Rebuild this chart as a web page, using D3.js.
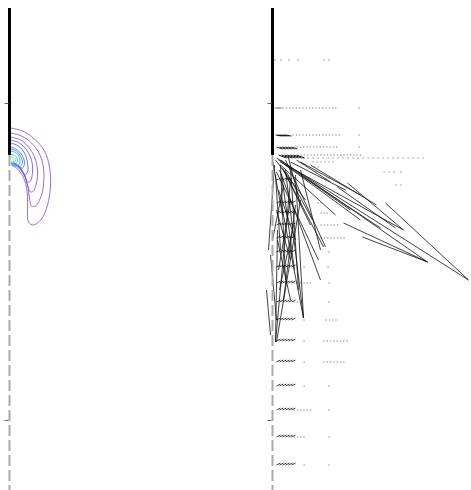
<!DOCTYPE html>
<html>
<head>
<meta charset="utf-8">
<script src="https://cdn.jsdelivr.net/npm/d3@7"></script>
<style>
  body { margin: 0; background: #fff; }
  svg { display: block; }
</style>
</head>
<body>
<div id="chart"></div>
<script>
// heights in mm above the lower tick, x in mm from the wall
const wallTop = 412;
const wallOpening = 265;
const domainBottom = -70;
const yTicks = [0, 317];

// concentration contours, outermost first
const contourLevels = [
    [[1,292],[13,289],[25,281],[35,269],[40,253],[41,234],[38,215],[32,201],[24,195],[19,198],[18,210],[18,225],[15,240],[9,250],[2,255]],
    [[1,287],[12,284],[22,277],[30,266],[34,252],[34,235],[31,222],[26,214],[22,214],[20,222],[18,235],[14,246],[8,253],[2,256]],
    [[1,283],[11,280],[19,273],[25,263],[28,250],[27,237],[24,229],[21,228],[18,235],[15,245],[9,253],[2,257]],
    [[1,280],[10,277],[17,270],[22,260],[23,248],[21,239],[18,238],[15,245],[10,253],[2,258]],
    [[1,277],[9,274],[15,267],[18,257],[18,248],[15,245],[12,250],[7,256],[2,258]],
    [[1,273],[8,270],[13,264],[15,257],[13,252],[8,254],[2,257]],
    [[1,271],[7,269],[11,264],[13,258],[11,254],[7,255],[2,257]],
    [[1,269],[7,267],[10,262],[10,256],[6,254],[2,256]],
    [[1,266],[6,264],[8,260],[6,256],[2,256]],
    [[1,263],[5,262],[6,259],[3,257],[1,258]],
    [[2,261],[4,260],[4,258],[2,258]]
];
const contourColors = ["#8f5fc8", "#8a60cc", "#7f62d0", "#6f64d6", "#5a66da", "#4a74dc", "#3f8ede", "#34a6dc", "#3bbcd4", "#62d2c0", "#a2e6a4"];

// tiny velocity vectors: row height, runs [from, to, spacing], single positions
const dotRows = [
    { y: 360, runs: [], singles: [2, 8, 16, 25, 51, 56] },
    { y: 312, runs: [[10, 65, 3.3]], singles: [86] },
    { y: 285, runs: [[20, 68, 3.3]], singles: [86] },
    { y: 273, runs: [[24, 65, 3.3]], singles: [86] },
    { y: 265, runs: [[28, 88, 3.3]], singles: [] },
    { y: 262, runs: [[30, 150, 5]], singles: [] },
    { y: 258, runs: [[40, 60, 4]], singles: [] },
    { y: 253, runs: [], singles: [41, 45] },
    { y: 248, runs: [], singles: [43, 111, 116, 121, 128] },
    { y: 242, runs: [], singles: [53, 56] },
    { y: 235, runs: [], singles: [123, 128] },
    { y: 217, runs: [], singles: [45, 48] },
    { y: 207, runs: [[48, 56, 3]], singles: [] },
    { y: 195, runs: [[48, 65, 3.3]], singles: [] },
    { y: 182, runs: [[48, 73, 3.3]], singles: [] },
    { y: 168, runs: [], singles: [56] },
    { y: 153, runs: [], singles: [31, 55] },
    { y: 137, runs: [[21, 38, 3.3]], singles: [56] },
    { y: 118, runs: [[21, 25, 3.3]], singles: [56] },
    { y: 100, runs: [[53, 65, 3.3]], singles: [31] },
    { y: 79, runs: [[51, 76, 3.3]], singles: [31] },
    { y: 58, runs: [[51, 73, 3.3]], singles: [31] },
    { y: 34, runs: [], singles: [31, 56] },
    { y: 10, runs: [[21, 38, 3.3]], singles: [56] },
    { y: -17, runs: [[21, 31, 3.3]], singles: [56] },
    { y: -45, runs: [], singles: [31, 56] }
];

// short vectors next to the wall: row, positions, u, v
const featherRows = [
    { y: 312, cols: [2, 4, 6], u: 4, v: 0, color: "#888" },
    { y: 285, cols: [3, 5, 7, 9, 11, 13], u: 6, v: -1, color: "#111" },
    { y: 273, cols: [4, 7, 10, 13, 16, 19], u: 6, v: -2, color: "#111" },
    { y: 265, cols: [6, 9, 12, 15, 18, 21, 24], u: 8, v: -3, color: "#000" },
    { y: 240, cols: [4, 7, 10, 13, 16], u: 4, v: 2, color: "#333" },
    { y: 217, cols: [4, 7, 10, 13, 16, 19], u: 4, v: 2, color: "#333" },
    { y: 207, cols: [4, 7, 10, 13, 16, 19], u: 4, v: 2, color: "#333" },
    { y: 195, cols: [4, 7, 10, 13, 16, 19], u: 4, v: 2, color: "#333" },
    { y: 182, cols: [4, 7, 10, 13, 16, 19], u: 4, v: 2, color: "#333" },
    { y: 168, cols: [4, 7, 10, 13, 16, 19], u: 4, v: 2, color: "#333" },
    { y: 153, cols: [4, 7, 10, 13, 16, 19], u: 4, v: 2, color: "#333" },
    { y: 137, cols: [4, 7, 10, 13, 16, 19], u: 4, v: 2, color: "#333" },
    { y: 118, cols: [4, 7, 10, 13, 16, 19], u: 4, v: 2, color: "#333" },
    { y: 100, cols: [4, 7, 10, 13, 16, 19], u: 4, v: 2, color: "#333" },
    { y: 79, cols: [4, 7, 10, 13, 16, 19], u: 4, v: 2, color: "#333" },
    { y: 58, cols: [4, 7, 10, 13, 16, 19], u: 4, v: 2, color: "#333" },
    { y: 34, cols: [4, 7, 10, 13, 16, 19], u: 4, v: 2, color: "#333" },
    { y: 10, cols: [4, 7, 10, 13, 16, 19], u: 4, v: 2, color: "#333" },
    { y: -17, cols: [4, 7, 10, 13, 16, 19], u: 4, v: 2, color: "#333" },
    { y: -45, cols: [4, 7, 10, 13, 16, 19], u: 4, v: 2, color: "#333" }
];

// large vectors near the opening: [x0, y0, x1, y1]
const longArrows = [
    [4,262,196,140], [113,217,196,140], [71,197,155,158], [90,183,155,158],
    [8,260,155,158], [75,237,131,190], [8,258,131,190], [65,233,123,192],
    [13,255,108,192], [6,260,88,200], [8,255,63,205], [10,252,51,173],
    [7,250,48,140], [4,248,46,160], [28,245,78,210],
    [13,250,31,102], [23,245,31,102], [8,220,31,102], [18,240,3,78],
    [5,190,3,78], [28,220,4,78], [-6,130,-2,85], [8,255,13,140],
    [18,252,26,130], [3,245,8,170], [11,250,38,195], [28,250,48,170],
    [3,260,33,220], [18,220,6,150], [13,260,53,173], [6,230,23,180],
    [23,215,11,120], [4,210,18,160], [0,260,10,205], [16,262,28,215],
    [11,235,0,180], [5,180,18,120], [21,195,7,130], [-2,165,4,100],
    [2,255,-4,170], [24,260,58,238], [18,258,73,230], [28,258,88,225],
    [38,255,104,215], [14,248,40,200], [9,246,22,150]
];

class WallPanel {
    constructor(_config) {
        this.config = {
            svg: _config.svg,
            left: _config.left,
            width: _config.width,
            height: _config.height
        };
        this.initVis();
    }

    initVis() {
        let vis = this;
        vis.y = d3.scaleLinear().domain([domainBottom, wallTop]).range([vis.config.height, 8]);
        vis.x = d3.scaleLinear().domain([0, vis.config.width]).range([vis.config.left, vis.config.left + vis.config.width]);
        vis.g = vis.config.svg.append("g");
        vis.marks = vis.g.append("g");
    }

    renderWall() {
        let vis = this;
        let x0 = vis.x(0);
        // open part of the wall
        vis.g.append("line")
            .attr("x1", x0).attr("x2", x0)
            .attr("y1", vis.y(wallOpening)).attr("y2", vis.y(domainBottom))
            .attr("stroke", "#aaa")
            .attr("stroke-width", 2)
            .attr("stroke-dasharray", "11,4");
        vis.g.append("line")
            .attr("x1", x0).attr("x2", x0)
            .attr("y1", vis.y(wallTop)).attr("y2", vis.y(wallOpening))
            .attr("stroke", "#000")
            .attr("stroke-width", 3);
        let axis = vis.g.append("g")
            .attr("transform", `translate(${x0 - 1},0)`)
            .call(d3.axisLeft(vis.y).tickValues(yTicks).tickSize(4).tickFormat(""));
        axis.select(".domain").remove();
        axis.selectAll(".tick line").attr("stroke", "#666");
    }

    renderContours() {
        let vis = this;
        let line = d3.line()
            .x((d) => vis.x(d[0]))
            .y((d) => vis.y(d[1]))
            .curve(d3.curveCatmullRom);
        vis.marks.selectAll(".contour")
            .data(contourLevels)
            .join("path")
            .attr("class", "contour")
            .attr("d", line)
            .attr("fill", "none")
            .attr("stroke", (d, i) => contourColors[i])
            .attr("stroke-width", 0.9);
    }

    renderQuiver() {
        let vis = this;
        let dots = [];
        dotRows.forEach((row) => {
            row.runs.forEach((r) => d3.range(r[0], r[1] + 0.01, r[2]).forEach((x) => dots.push([x, row.y])));
            row.singles.forEach((x) => dots.push([x, row.y]));
        });
        vis.marks.selectAll(".dot")
            .data(dots)
            .join("line")
            .attr("class", "dot")
            .attr("x1", (d) => vis.x(d[0]))
            .attr("x2", (d) => vis.x(d[0]) + 1.2)
            .attr("y1", (d) => vis.y(d[1]))
            .attr("y2", (d) => vis.y(d[1]))
            .attr("stroke", "#666")
            .attr("stroke-width", 0.9);

        let feathers = [];
        featherRows.forEach((row) => {
            row.cols.forEach((c) => feathers.push({ x: c, y: row.y, u: row.u, v: row.v, color: row.color }));
        });
        vis.marks.selectAll(".feather")
            .data(feathers)
            .join("line")
            .attr("class", "feather")
            .attr("x1", (d) => vis.x(d.x))
            .attr("y1", (d) => vis.y(d.y))
            .attr("x2", (d) => vis.x(d.x + d.u))
            .attr("y2", (d) => vis.y(d.y + d.v))
            .attr("stroke", (d) => d.color)
            .attr("stroke-width", 0.9);

        vis.marks.selectAll(".arrow")
            .data(longArrows)
            .join("line")
            .attr("class", "arrow")
            .attr("x1", (d) => vis.x(d[0]))
            .attr("y1", (d) => vis.y(d[1]))
            .attr("x2", (d) => vis.x(d[2]))
            .attr("y2", (d) => vis.y(d[3]))
            .attr("stroke", "#111")
            .attr("stroke-width", 0.8);
    }
}

const svg = d3.select("#chart")
    .append("svg")
    .attr("width", 471)
    .attr("height", 490);

const concentration = new WallPanel({ svg: svg, left: 9.5, width: 230, height: 490 });
concentration.renderContours();
concentration.renderWall();

const velocity = new WallPanel({ svg: svg, left: 272.5, width: 199, height: 490 });
velocity.renderQuiver();
velocity.renderWall();
</script>
</body>
</html>
